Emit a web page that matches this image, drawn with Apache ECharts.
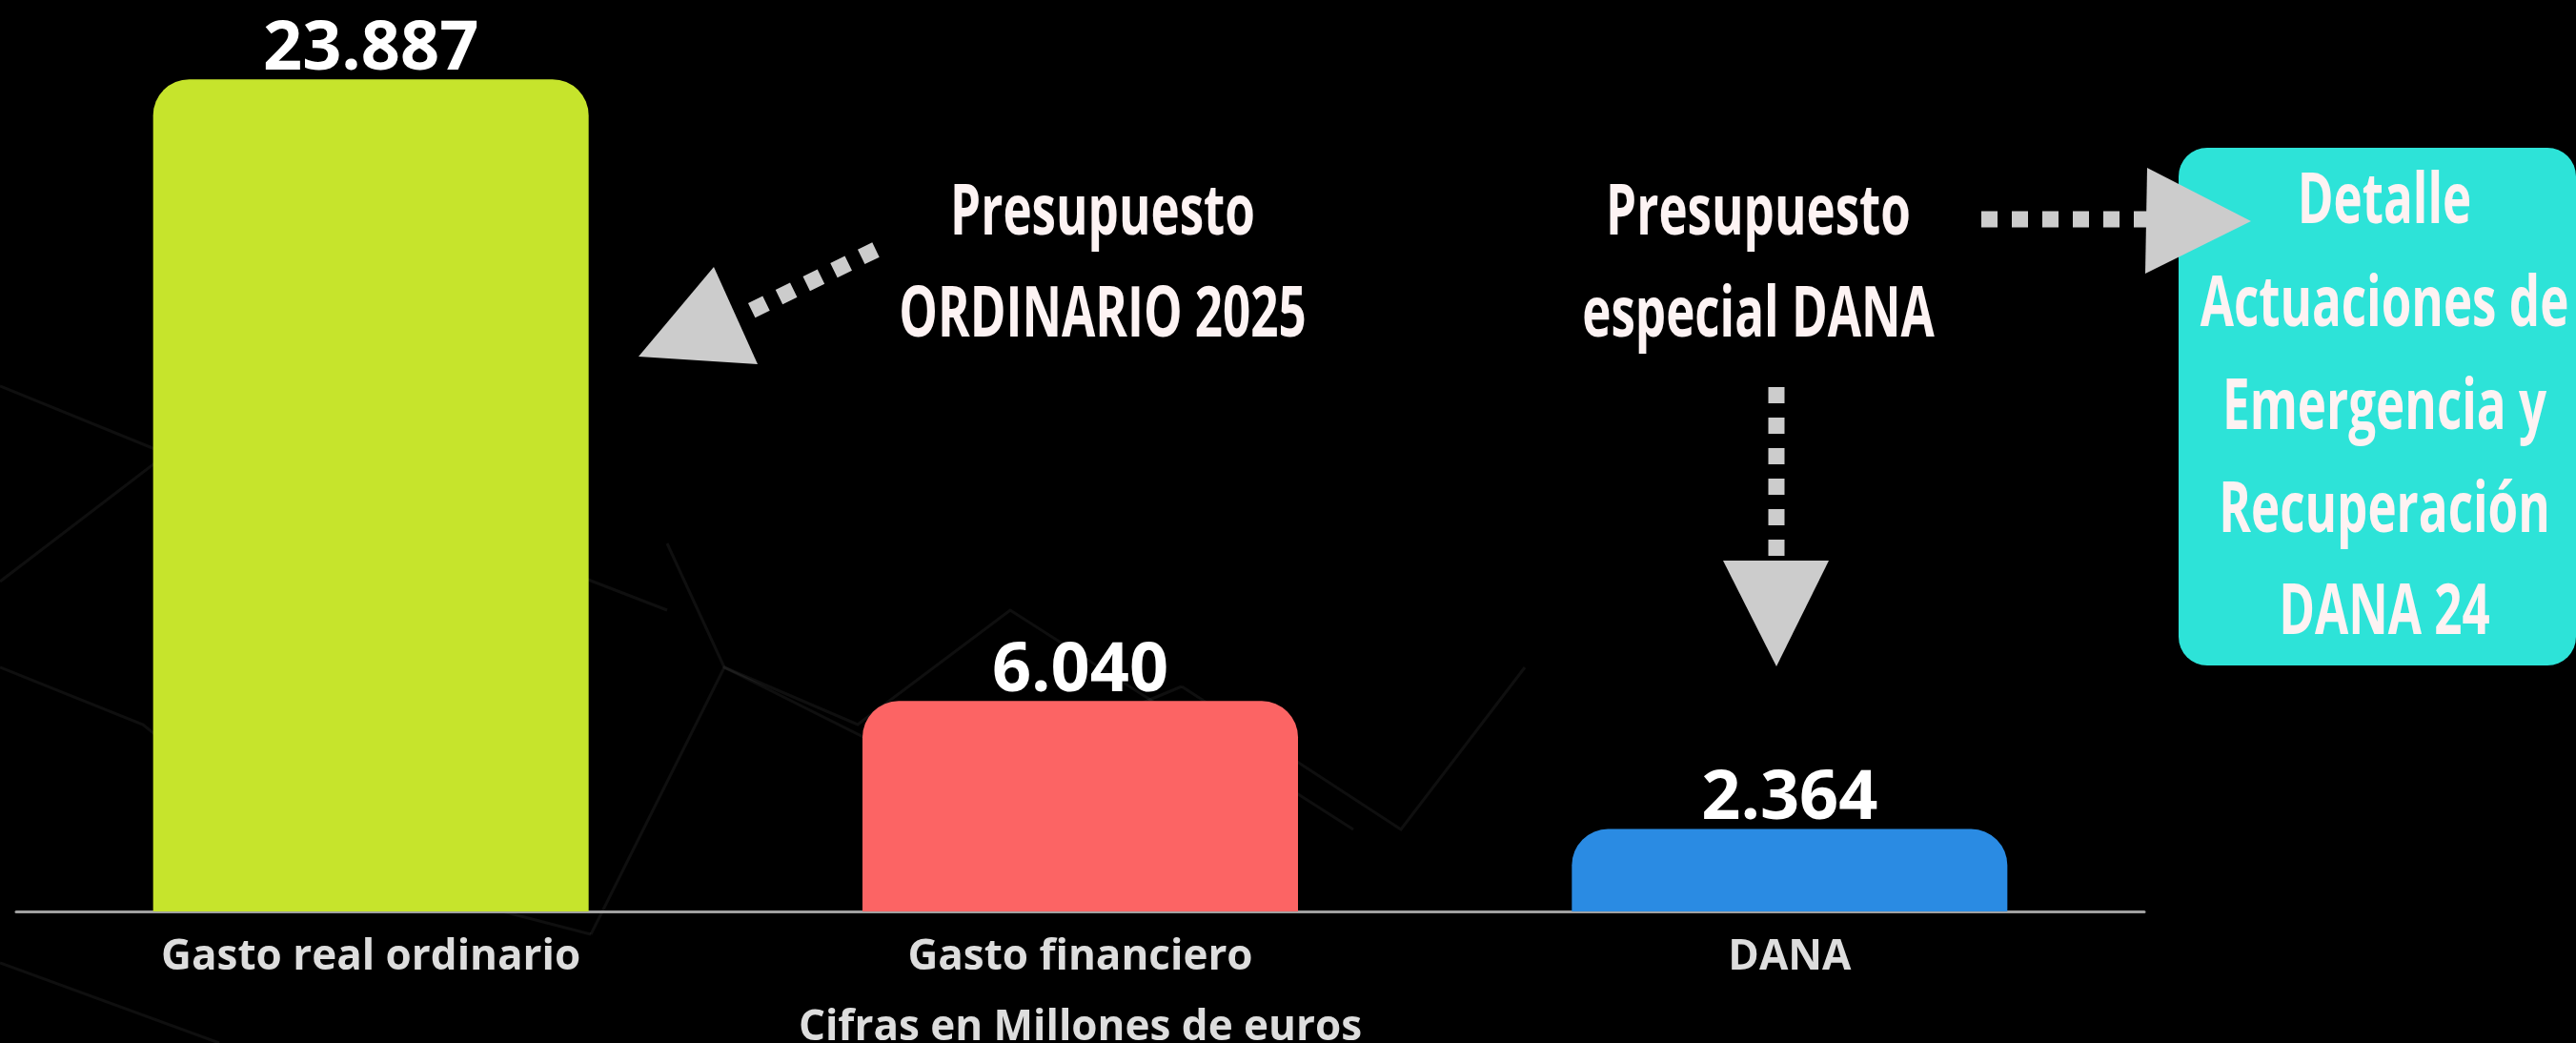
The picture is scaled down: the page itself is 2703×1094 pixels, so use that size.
<!DOCTYPE html>
<html>
<head>
<meta charset="utf-8">
<script src="https://cdn.jsdelivr.net/npm/echarts@6/dist/echarts.min.js"></script>
<style>
  html, body { margin: 0; padding: 0; background: #000; }
  #main { width: 2703px; height: 1094px; }
</style>
</head>
<body>
<div id="main"></div>
<script>
// datos (millones de euros)
var categories = ['Gasto real ordinario', 'Gasto financiero', 'DANA'];
var values = [23887, 6040, 2364];
var barColors = ['#c6e42c', '#fc6464', '#2a8be3'];
var axisName = 'Cifras en Millones de euros';

var condensed = '"Open Sans", sans-serif';
var grey = '#cccccc';

function fmt(v) {
  return String(v).replace(/\B(?=(\d{3})+(?!\d))/g, '.');
}

// textos de anotacion (fuente estrecha simulada con scaleX)
function txt(s, x, y) {
  return {
    type: 'text', x: x, y: y, scaleX: 0.7, z: 10,
    style: {
      text: s, fill: '#fdf3f3', align: 'center', verticalAlign: 'middle',
      font: 'bold 73px ' + condensed
    }
  };
}

// flechas punteadas
function dots(x1, y1, x2, y2) {
  return {
    type: 'line', z: 5,
    shape: { x1: x1, y1: y1, x2: x2, y2: y2 },
    style: { stroke: grey, lineWidth: 17, lineDash: [17, 15], lineCap: 'butt' }
  };
}
function head(pts) {
  return { type: 'polygon', z: 6, shape: { points: pts }, style: { fill: grey } };
}

// lineas tenues de fondo
var bgLines = [
  [[0, 405], [160, 470], [480, 555], [700, 640]],
  [[0, 610], [170, 480], [420, 380]],
  [[0, 700], [150, 760], [330, 905], [620, 980]],
  [[700, 570], [760, 700], [900, 760], [1060, 640], [1420, 870]],
  [[620, 980], [760, 700], [1000, 820], [1240, 720]],
  [[1240, 720], [1470, 870], [1600, 700]],
  [[0, 1010], [230, 1094]]
];
var bg = bgLines.map(function (p) {
  return { type: 'polyline', z: 0, shape: { points: p },
    style: { stroke: 'rgba(255,255,255,0.06)', lineWidth: 3, fill: null } };
});

var myChart = echarts.init(document.getElementById('main'));

var option = {
  backgroundColor: '#000000',
  animation: false,
  grid: { left: 17, right: 453, top: 79, bottom: 138, containLabel: false, outerBoundsMode: 'none' },
  xAxis: {
    type: 'category',
    data: categories,
    name: axisName,
    nameLocation: 'middle',
    nameGap: 100,
    nameTextStyle: { color: '#dddddd', fontSize: 44, fontWeight: 'bold', fontFamily: 'Open Sans' },
    axisLine: { lineStyle: { color: '#a0a0a0', width: 3 } },
    axisTick: { show: false },
    axisLabel: { color: '#dddddd', fontSize: 44, fontWeight: 'bold', fontFamily: 'Open Sans', margin: 26 }
  },
  yAxis: {
    type: 'value', min: 0, max: 24000, show: false,
    splitLine: { show: false }
  },
  series: [{
    type: 'bar',
    barWidth: 457,
    data: values.map(function (v, i) {
      return { value: v, itemStyle: { color: barColors[i] } };
    }),
    itemStyle: { borderRadius: [38, 38, 0, 0] },
    label: {
      show: true, position: 'top', distance: -5,
      color: '#ffffff', fontSize: 72, fontWeight: 'bold', fontFamily: 'Open Sans',
      formatter: function (p) { return fmt(p.value); }
    }
  }],
  graphic: bg.concat([
    txt('Presupuesto', 1157, 225),
    txt('ORDINARIO 2025', 1157, 332),
    txt('Presupuesto', 1845, 225),
    txt('especial DANA', 1845, 332),
    dots(919, 262, 786, 327),
    head([[749, 280], [795, 382], [670, 374]]),
    dots(1864, 406, 1864, 588),
    head([[1808, 588], [1919, 588], [1864, 699]]),
    { type: 'rect', z: 4, shape: { x: 2286, y: 155, width: 417, height: 543, r: 30 },
      style: { fill: '#2de3d8' } },
    dots(2079, 230, 2253, 230),
    head([[2253, 176], [2251, 287], [2362, 232]]),
    txt('Detalle', 2502, 213),
    txt('Actuaciones de', 2502, 321),
    txt('Emergencia y', 2502, 429),
    txt('Recuperación', 2502, 537),
    txt('DANA 24', 2502, 644)
  ])
};

myChart.setOption(option);
</script>
</body>
</html>
